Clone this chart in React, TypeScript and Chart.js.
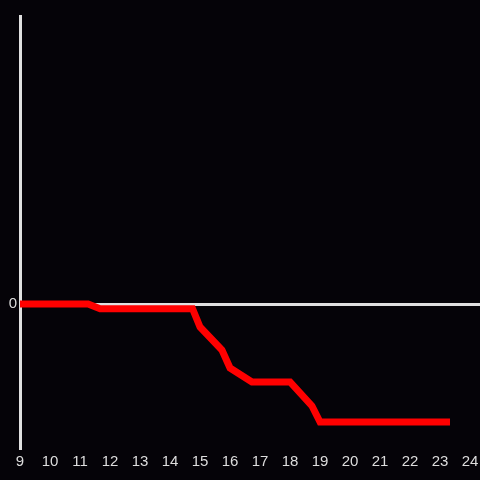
import React, { useEffect, useRef } from "react";
import { Chart, registerables } from "chart.js";

Chart.register(...registerables);

const hours = [9, 11.27, 11.67, 14.75, 15.0, 15.73, 16.0, 16.73, 18.0, 18.73, 19.0, 23.33];
const values = [0, 0, -0.047, -0.047, -0.23, -0.46, -0.64, -0.78, -0.78, -1.02, -1.18, -1.18];
const yTickLabels = [0];

export default function App() {
  const ref = useRef<HTMLCanvasElement | null>(null);
  useEffect(() => {
    document.body.style.margin = "0";
    const ctx = ref.current!;
    const chart = new Chart(ctx, {
      type: "line",
      data: {
        datasets: [
          {
            data: hours.map((h, i) => ({ x: h, y: values[i] })),
            borderColor: "#ff0000",
            borderWidth: 7,
            pointRadius: 0,
            tension: 0,
            borderCapStyle: "butt",
            borderJoinStyle: "miter",
          },
        ],
      },
      options: {
        animation: false,
        responsive: false,
        maintainAspectRatio: false,
        layout: { padding: { top: 16, right: 0, left: 0, bottom: 0 } },
        plugins: { legend: { display: false }, tooltip: { enabled: false } },
        scales: {
          x: {
            type: "linear",
            min: 9,
            max: 24.33,
            grid: { display: false, drawTicks: false },
            border: { display: false },
            afterBuildTicks: (scale: any) => {
              const t = [];
              for (let v = 9; v <= 24; v++) t.push({ value: v });
              scale.ticks = t;
            },
            ticks: { color: "#dddddd", font: { size: 15 }, padding: 5, maxRotation: 0, autoSkip: false },
            afterFit: (scale: any) => {
              scale.height = 32;
              scale.paddingRight = 0;
              scale.paddingLeft = 0;
            },
          },
          y: {
            type: "linear",
            min: -1.44,
            max: 2.88,
            afterBuildTicks: (scale: any) => {
              scale.ticks = yTickLabels.map((v) => ({ value: v }));
            },
            grid: { color: "#e0e0e0", lineWidth: 3, drawTicks: false },
            border: { display: true, color: "#e0e0e0", width: 3 },
            ticks: { color: "#dddddd", font: { size: 15 }, padding: 3 },
            afterFit: (scale: any) => {
              scale.width = 20;
            },
          },
        },
      },
    });
    return () => chart.destroy();
  }, []);
  return (
    <div style={{ width: 480, height: 480, background: "#050308" }}>
      <canvas ref={ref} width={480} height={480} />
    </div>
  );
}
